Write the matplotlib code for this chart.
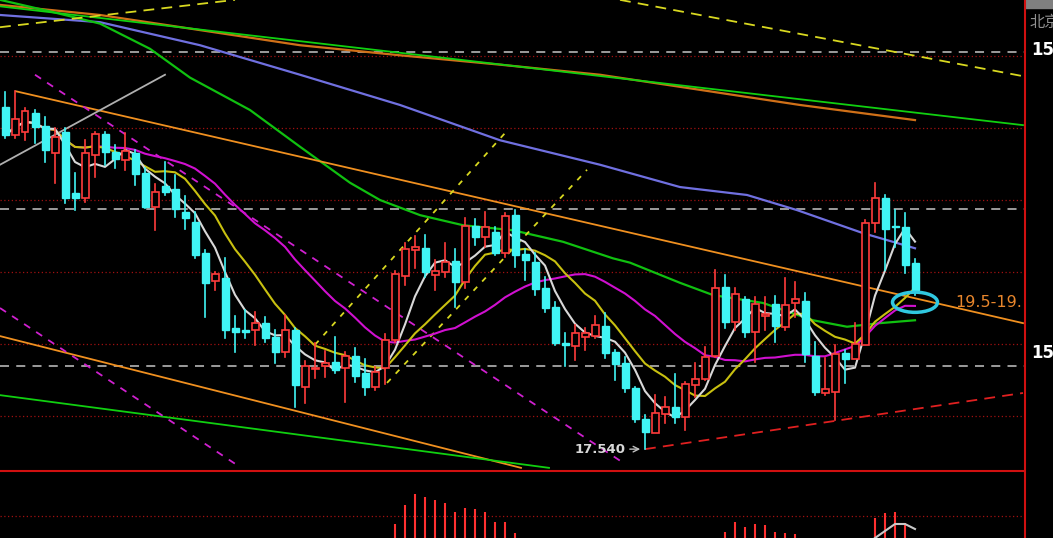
import matplotlib
matplotlib.use('Agg')
import matplotlib.pyplot as plt
from matplotlib.patches import Rectangle, Ellipse
import numpy as np
import pandas as pd

plt.rcParams['font.family'] = ['DejaVu Sans', 'Noto Sans CJK SC']

# daily candles, oldest first
opens = [22.29, 21.90, 21.94, 22.21, 22.03, 21.65, 21.94, 21.10, 21.03, 21.63,
         21.92, 21.67, 21.56, 21.65, 21.38, 20.90, 21.19, 21.15, 20.83, 20.69,
         20.26, 19.88, 19.92, 19.22, 19.19, 19.19, 19.29, 19.10, 18.89, 19.19,
         18.40, 18.65, 18.69, 18.75, 18.67, 18.83, 18.60, 18.40, 18.67, 19.06,
         19.94, 20.31, 20.33, 19.96, 20.00, 20.15, 19.86, 20.64, 20.49, 20.56,
         20.26, 20.79, 20.25, 20.14, 19.78, 19.51, 19.01, 18.97, 19.10, 19.11,
         19.25, 18.89, 18.74, 18.39, 17.96, 17.76, 18.03, 18.13, 17.99, 18.43,
         18.51, 18.83, 19.79, 19.31, 19.63, 19.17, 19.39, 19.56, 19.24, 19.57,
         19.60, 18.83, 18.32, 18.33, 18.88, 18.79, 18.99, 20.68, 21.03, 20.64,
         20.63, 20.13]
highs = [22.50, 22.51, 22.28, 22.25, 22.15, 22.00, 22.00, 21.38, 21.83, 21.94,
         21.94, 21.76, 21.93, 21.69, 21.44, 21.22, 21.53, 21.35, 21.06, 20.83,
         20.31, 20.00, 20.19, 19.39, 19.47, 19.44, 19.38, 19.19, 19.40, 19.22,
         18.76, 19.01, 18.90, 19.10, 18.89, 18.94, 18.79, 18.68, 19.14, 20.01,
         20.40, 20.50, 20.51, 20.17, 20.40, 20.32, 20.75, 20.74, 20.83, 20.63,
         20.82, 20.86, 20.32, 20.26, 19.93, 19.58, 19.15, 19.26, 19.22, 19.39,
         19.43, 18.92, 18.82, 18.40, 18.01, 18.29, 18.26, 18.58, 18.47, 18.74,
         18.96, 20.03, 19.96, 19.78, 19.65, 19.65, 19.65, 19.67, 19.92, 19.86,
         19.71, 19.03, 18.81, 18.99, 18.92, 19.29, 20.72, 21.24, 21.07, 20.86,
         20.82, 20.18]
lows = [21.86, 21.86, 21.83, 21.79, 21.53, 21.24, 20.96, 20.86, 20.97, 21.32,
        21.49, 21.44, 21.42, 21.21, 20.89, 20.58, 21.07, 20.76, 20.60, 20.19,
        19.38, 19.75, 19.08, 18.89, 19.08, 18.99, 19.03, 18.74, 18.82, 18.13,
        18.18, 18.53, 18.54, 18.60, 18.19, 18.47, 18.29, 18.36, 18.44, 19.03,
        19.82, 20.06, 19.93, 19.75, 19.93, 19.51, 19.78, 20.38, 20.35, 20.24,
        20.21, 20.07, 19.89, 19.68, 19.44, 18.99, 18.69, 18.78, 18.92, 19.08,
        18.81, 18.50, 18.33, 17.92, 17.54, 17.76, 17.90, 17.90, 17.81, 18.26,
        18.50, 18.82, 19.22, 19.19, 19.10, 18.75, 19.19, 19.03, 19.19, 19.38,
        18.75, 18.29, 18.29, 17.94, 18.46, 18.79, 18.99, 20.56, 20.03, 20.35,
        19.99, 19.68]
closes = [21.90, 22.12, 22.24, 22.01, 21.69, 21.88, 21.03, 21.03, 21.65, 21.92,
          21.67, 21.57, 21.68, 21.36, 20.90, 21.11, 21.11, 20.88, 20.75, 20.24,
          19.85, 19.97, 19.19, 19.17, 19.17, 19.29, 19.08, 18.89, 19.19, 18.43,
          18.69, 18.67, 18.74, 18.64, 18.83, 18.56, 18.40, 18.61, 19.06, 19.97,
          20.32, 20.35, 20.00, 20.01, 20.14, 19.86, 20.64, 20.49, 20.63, 20.26,
          20.78, 20.24, 20.17, 19.76, 19.50, 19.01, 18.99, 19.15, 19.15, 19.26,
          18.88, 18.72, 18.39, 17.96, 17.78, 18.04, 18.13, 17.99, 18.44, 18.51,
          18.82, 19.78, 19.31, 19.69, 19.17, 19.56, 19.42, 19.25, 19.54, 19.63,
          18.86, 18.33, 18.38, 18.86, 18.79, 19.00, 20.68, 21.03, 20.60, 20.63,
          20.10, 19.75]

# long averages (bar index, price)
ma60_x = [-0.5, 4.5, 9.5, 14.5, 18.5, 24.5, 29.5, 34.5, 37.5, 41.5, 45.8, 50.8,
          55.8, 60.8, 62.5, 67.5, 70.8, 75.8, 80.8, 84.2, 87.5, 91.0]
ma60_y = [23.78, 23.62, 23.45, 23.10, 22.70, 22.25, 21.74, 21.24, 21.00, 20.79, 20.65, 20.58,
          20.42, 20.19, 20.13, 19.85, 19.68, 19.57, 19.33, 19.24, 19.29, 19.33]
ma120_x = [-0.5, 9.5, 19.5, 29.5, 39.5, 49.5, 59.5, 67.5, 74.2, 79.2, 85.8, 91.0]
ma120_y = [23.57, 23.47, 23.15, 22.74, 22.32, 21.83, 21.49, 21.18, 21.07, 20.86, 20.54, 20.33]
ma250_x = [-0.5, 9.5, 19.5, 29.5, 39.5, 49.5, 59.5, 69.5, 79.5, 91.0]
ma250_y = [23.71, 23.57, 23.36, 23.15, 23.01, 22.88, 22.74, 22.53, 22.32, 22.11]

# hand drawn lines: (x0, y0, x1, y1, colour, style)
trendlines = [
    (-0.5, 23.69, 101.8, 22.04, '#10d010', '-'),
    (61.5, 23.78, 101.8, 22.72, '#d8d820', (0, (6, 4))),
    (-0.5, 23.40, 23.0, 23.78, '#d8d820', (0, (6, 4))),
    (1.1, 22.51, 101.8, 19.29, '#f09020', '-'),
    (-0.5, 19.11, 51.6, 17.28, '#f09020', '-'),
    (-0.5, 18.29, 54.4, 17.28, '#10d010', '-'),
    (3.0, 22.74, 61.5, 17.38, '#d020d0', (0, (4, 4))),
    (-0.5, 19.50, 23.3, 17.31, '#d020d0', (0, (4, 4))),
    (-0.5, 21.49, 16.0, 22.74, '#b0b0b0', '-'),
    (31.0, 18.99, 50.0, 21.93, '#d8d820', (0, (3, 4))),
    (38.2, 18.46, 58.2, 21.42, '#d8d820', (0, (3, 4))),
    (64.0, 17.54, 101.8, 18.32, '#e02020', (0, (6, 4))),
]

grid_red = [18, 19, 20, 21, 22, 23]
grid_grey = [18.69, 20.875, 23.06]

# lower panel histogram
vol_idx = [39, 40, 41, 42, 43, 44, 45, 46, 47, 48, 49, 50, 51,
           72, 73, 74, 75, 76, 77, 78, 79, 87, 88, 89, 90]
vol_val = [14, 33, 44, 41, 38, 35, 26, 30, 29, 26, 16, 16, 5,
           6, 16, 11, 14, 13, 6, 5, 4, 20, 25, 26, 15]
sig_idx = [87, 88, 89, 90, 91]
sig_val = [0, 7, 14, 14, 9]

UP = '#ff3c3c'
DOWN = '#40f4f4'

fig = plt.figure(figsize=(10.53, 5.38), dpi=100)
fig.patch.set_facecolor('black')
W = 1024 / 1053
ax = fig.add_axes([0, 67 / 538, W, 471 / 538])
ax2 = fig.add_axes([0, 0, W, 66 / 538])
for a in (ax, ax2):
    a.set_facecolor('black')
    a.set_axis_off()

ax.set_xlim(-0.5, 101.9)
ax.set_ylim(23.778 - 471 / 72, 23.778)

for g in grid_red:
    ax.axhline(g, color='#a01010', lw=0.9, ls=(0, (1, 2)), zorder=1)
for g in grid_grey:
    ax.axhline(g, color='#a8a8a8', lw=1.3, ls=(0, (5, 4)), zorder=1)

ax.plot(ma250_x, ma250_y, color='#d07018', lw=1.6, zorder=2)
ax.plot(ma120_x, ma120_y, color='#7070e0', lw=1.6, zorder=2)
ax.plot(ma60_x, ma60_y, color='#10c010', lw=1.6, zorder=2)

for x0, y0, x1, y1, c, ls in trendlines:
    ax.plot([x0, x1], [y0, y1], color=c, lw=1.3, ls=ls, zorder=2)

n = len(closes)
idx = np.arange(n)
s = pd.Series(closes)
ax.plot(idx, s.rolling(20, min_periods=1).mean(), color='#d010d0', lw=1.5, zorder=3)
ax.plot(idx, s.rolling(10, min_periods=1).mean(), color='#c8c010', lw=1.5, zorder=3)
ax.plot(idx, s.rolling(5, min_periods=1).mean(), color='#d8d8d8', lw=1.5, zorder=3)

bw = 0.7
for i in range(n):
    o, h, l, c = opens[i], highs[i], lows[i], closes[i]
    top, bot = max(o, c), min(o, c)
    if c >= o:
        ax.plot([i, i], [top, h], color=UP, lw=1.2, zorder=4)
        ax.plot([i, i], [l, bot], color=UP, lw=1.2, zorder=4)
        ax.add_patch(Rectangle((i - bw / 2, bot), bw, max(top - bot, 0.01),
                               facecolor='black', edgecolor=UP, lw=1.2, zorder=5))
    else:
        ax.plot([i, i], [l, h], color=DOWN, lw=1.2, zorder=4)
        ax.add_patch(Rectangle((i - bw / 2, bot), bw, max(top - bot, 0.01),
                               facecolor=DOWN, edgecolor=DOWN, lw=1.0, zorder=5))

# marker near the last bar
ax.add_patch(Ellipse((91, 19.58), 4.5, 0.28, fill=False, edgecolor='#30c8e0', lw=2.5, zorder=6))
ax.text(95, 19.58, '19.5-19.', color='#e8862c', fontsize=11.5, va='center', ha='left', zorder=6)

low_i = int(np.argmin(lows))
ax.annotate('', xy=(low_i - 0.2, lows[low_i]), xytext=(low_i - 1.8, lows[low_i]),
            arrowprops=dict(arrowstyle='->', color='#c0c0c0', lw=1))
ax.text(low_i - 1.9, lows[low_i], '%.3f' % lows[low_i], color='#d8d8d8', fontsize=9.5,
        fontweight='bold', ha='right', va='center')

# lower panel
ax2.set_xlim(-0.5, 101.9)
ax2.set_ylim(0, 66)
ax2.axhline(22, color='#a01010', lw=0.9, ls=(0, (1, 2)))
ax2.vlines(vol_idx, 0, vol_val, color='#ff3030', lw=1.5)
ax2.plot(sig_idx, sig_val, color='#c8c8c8', lw=1.5)

# frame lines and right scale
fig.add_artist(plt.Line2D([0, W], [1 - 471 / 538] * 2, color='#d01010', lw=1.5))
fig.add_artist(plt.Line2D([W + 0.0005] * 2, [0, 1], color='#d01010', lw=1.5))
fig.add_artist(Rectangle((W + 0.001, 1 - 8 / 538), 1 - W, 8 / 538, color='#808080'))
fig.text(1030 / 1053, 1 - 22 / 538, '北京', color='#909090', fontsize=11, va='center', ha='left')
fig.text(1031 / 1053, 1 - 50 / 538, '15', color='white', fontsize=12, fontweight='bold', va='center', ha='left')
fig.text(1031 / 1053, 1 - 353 / 538, '15', color='white', fontsize=12, fontweight='bold', va='center', ha='left')

fig.savefig('out.png', dpi=100, facecolor='black')
